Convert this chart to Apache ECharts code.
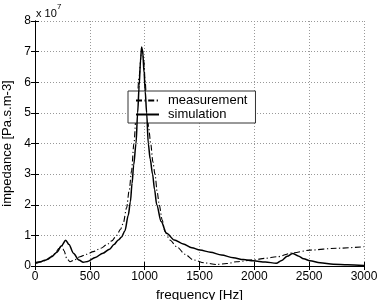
<!DOCTYPE html>
<html><head><meta charset="utf-8">
<script src="https://cdn.jsdelivr.net/npm/echarts@6/dist/echarts.min.js"></script>
<style>html,body{margin:0;padding:0;background:#fff}#c{width:382px;height:300px}</style>
</head><body><div id="c"></div>
<script>
// values in units of 1e7 Pa.s.m-3
const simFreq = [0,50,100,150,200,240,280,310,350,400,440,480,550,620,680,720,760,790,820,850,870,885,900,921,936,950,962,972,982,995,1005,1018,1033,1050,1072,1090,1110,1150,1200,1270,1352,1430,1504,1600,1700,1808,1900,1990,2100,2200,2250,2300,2350,2400,2450,2507,2600,2720,2850,3000];
const simVals = [0.11,0.14,0.2,0.3,0.45,0.65,0.84,0.7,0.42,0.2,0.12,0.15,0.28,0.42,0.55,0.7,0.85,0.95,1.15,1.65,2.1,2.7,3.3,4.0,5.0,5.9,6.7,7.15,7.0,6.3,5.7,5.0,4.0,3.5,3.0,2.5,2.0,1.45,1.07,0.85,0.72,0.6,0.52,0.45,0.36,0.27,0.21,0.17,0.13,0.09,0.18,0.32,0.41,0.33,0.24,0.17,0.11,0.06,0.04,0.02];
const measFreq = [10,60,121,180,220,243,265,289,319,360,410,470,532,600,653,700,745,780,805,835,860,880,902,925,950,968,980,992,1005,1020,1037,1055,1075,1094,1115,1133,1160,1185,1230,1292,1370,1443,1550,1656,1750,1838,1990,2100,2203,2355,2507,2750,3000];
const measVals = [0.08,0.14,0.22,0.4,0.58,0.68,0.5,0.25,0.14,0.2,0.3,0.38,0.47,0.58,0.69,0.82,1.0,1.2,1.4,1.9,2.5,3.1,4.0,5.1,6.2,6.9,7.05,6.7,6.0,5.2,4.5,4.0,3.4,3.0,2.4,2.0,1.5,1.12,0.85,0.63,0.38,0.2,0.1,0.05,0.08,0.14,0.2,0.25,0.3,0.43,0.52,0.58,0.63];
const xTicks = {min:0, max:3000, step:500};
const yTicks = {min:0, max:8, step:1};
const seriesNames = ['measurement','simulation'];
const xLabel = 'frequency [Hz]';
const yLabel = 'impedance [Pa.s.m-3]';

const FONT = 'Liberation Sans, Arial, sans-serif';
const chart = echarts.init(document.getElementById('c'), null, {renderer:'canvas'});
const axBase = {
  axisLine:{show:true, lineStyle:{color:'#000', width:1}},
  axisTick:{show:true, inside:true, length:4, lineStyle:{color:'#000'}},
};
chart.setOption({
  animation:false,
  textStyle:{fontFamily:FONT},
  grid:{left:35, right:18, top:21, bottom:34, containLabel:false, outerBoundsMode:'none'},
  graphic:[
    {type:'text', left:36, top:8, style:{text:'x 10', fontSize:11, fontFamily:FONT, fill:'#000'}},
    {type:'text', left:57, top:3, style:{text:'7', fontSize:8, fontFamily:FONT, fill:'#000'}}
  ],
  legend:{
    data:seriesNames, orient:'vertical', left:128, top:91,
    backgroundColor:'#fff', borderColor:'#333', borderWidth:1,
    padding:[3,8,2,7], itemWidth:23, itemHeight:13, itemGap:1,
    itemStyle:{opacity:0},
    textStyle:{fontSize:13, color:'#000', fontFamily:FONT, padding:[0,0,0,4]}
  },
  xAxis:[
    Object.assign({type:'value', min:xTicks.min, max:xTicks.max, interval:xTicks.step, position:'bottom',
      name:xLabel, nameLocation:'middle', nameGap:18, nameTextStyle:{fontSize:13.5, color:'#000'},
      axisLabel:{fontSize:12, color:'#000', margin:5, formatter:v=>String(v)},
      splitLine:{show:true, lineStyle:{color:'#999', type:[1,2], width:1}}}, axBase),
    Object.assign({type:'value', min:xTicks.min, max:xTicks.max, interval:xTicks.step, position:'top',
      axisLabel:{show:false}, splitLine:{show:false}}, axBase)
  ],
  yAxis:[
    Object.assign({type:'value', min:yTicks.min, max:yTicks.max, interval:yTicks.step, position:'left',
      name:yLabel, nameLocation:'middle', nameGap:20, nameTextStyle:{fontSize:13, color:'#000'},
      axisLabel:{fontSize:12, color:'#000', margin:4, formatter:v=>String(v)},
      splitLine:{show:true, lineStyle:{color:'#999', type:[1,2], width:1}}}, axBase),
    Object.assign({type:'value', min:yTicks.min, max:yTicks.max, interval:yTicks.step, position:'right',
      axisLabel:{show:false}, splitLine:{show:false}}, axBase)
  ],
  series:[
    {name:seriesNames[0], type:'line', showSymbol:false, symbol:'none', smooth:0.3, smoothMonotone:'x',
     data:measFreq.map((f,i)=>[f, measVals[i]]),
     lineStyle:{color:'#000', width:1.1, type:[6,2.5,1.2,2.5]}, itemStyle:{color:'#000'}, z:3},
    {name:seriesNames[1], type:'line', showSymbol:false, symbol:'none', smooth:0.3, smoothMonotone:'x',
     data:simFreq.map((f,i)=>[f, simVals[i]]),
     lineStyle:{color:'#000', width:1.5, type:'solid'}, itemStyle:{color:'#000'}, z:4}
  ]
});
</script></body></html>
